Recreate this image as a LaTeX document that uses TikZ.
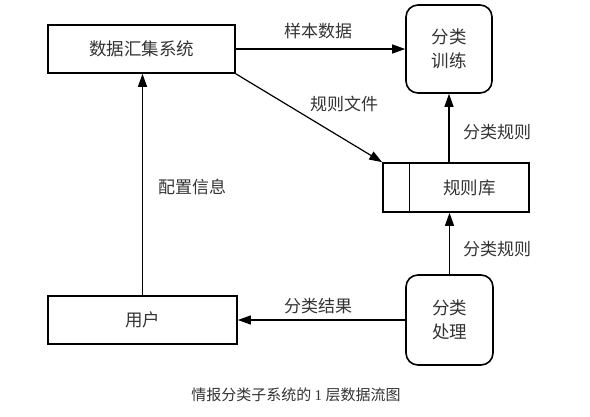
\documentclass[tikz,border=0pt]{standalone}
\usepackage{fontspec}
\setmainfont{Liberation Serif}
\newfontfamily\cjk{Noto Sans CJK SC}
\usetikzlibrary{arrows.meta,calc}
\begin{document}
\begin{tikzpicture}[x=1pt,y=-1pt,
  box/.style={draw, line width=1.6pt, inner sep=0pt, font=\cjk\fontsize{17.5}{20}\selectfont, text=black!80},
  rbox/.style={box, rounded corners=12pt, align=center, font=\cjk\fontsize{17.5}{24}\selectfont},
  lbl/.style={inner sep=1pt, font=\cjk\fontsize{17}{20}\selectfont, text=black!80},
  arr/.style={line width=1.2pt, -{Triangle[length=13pt,width=9pt]}}]
\useasboundingbox (0,0) rectangle (590,416);
\node[box, minimum width=187pt, minimum height=48pt] (collect) at (141.5,49) {数据汇集系统};
\node[rbox, minimum width=86pt, minimum height=88pt] (train) at (449,49) {分类\\训练};
\node[box, minimum width=146pt, minimum height=49pt] (rules) at (456,187.5) {\hspace*{27pt}规则库};
\draw[line width=1.4pt] ($(rules.north west)+(27,0)$) coordinate (d1) -- (d1 |- rules.south);
\node[rbox, minimum width=87pt, minimum height=90pt] (proc) at (449.5,320) {分类\\处理};
\node[box, minimum width=189pt, minimum height=48pt] (user) at (142.5,320) {用户};

\draw[arr] (collect.east) -- (train.west);
\draw[arr] (collect.south east) -- (rules.north west);
\draw[arr] (train.south |- rules.north) -- (train.south);
\draw[arr] (proc.north) -- (proc.north |- rules.south);
\draw[arr] (proc.west) -- (user.east);
\draw[arr] (user.north) -- (user.north |- collect.south);

\node[lbl] (l1) at (318,31) {样本数据};
\node[lbl] (l2) at (344,104) {规则文件};
\node[lbl] (l3) at (497,132) {分类规则};
\node[lbl] (l4) at (497,249) {分类规则};
\node[lbl] (l5) at (192,187) {配置信息};
\node[lbl] (l6) at (318,306) {分类结果};
\node[lbl, font=\cjk\fontsize{15}{18}\selectfont] (cap) at (296,395) {情报分类子系统的 {\rmfamily 1} 层数据流图};
\end{tikzpicture}
\end{document}
